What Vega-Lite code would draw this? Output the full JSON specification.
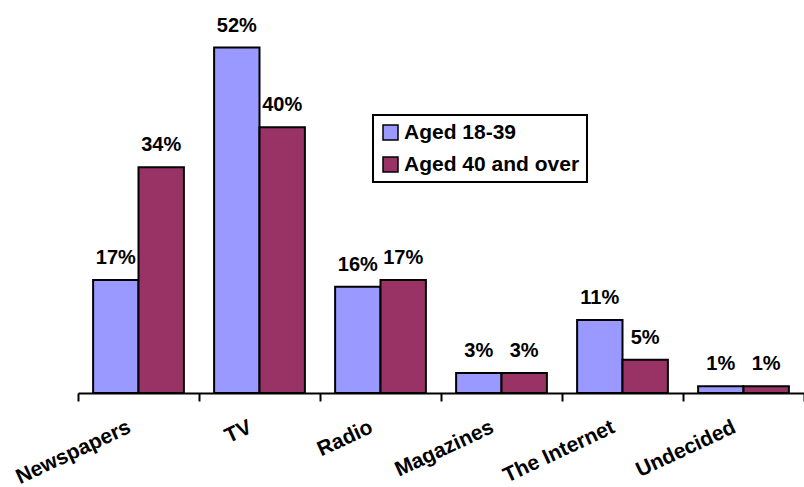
{
  "$schema": "https://vega.github.io/schema/vega-lite/v6.json",
  "autosize": "none",
  "width": 726,
  "height": 372,
  "padding": {"left": 78, "top": 21, "right": 0, "bottom": 94},
  "background": "white",
  "config": {
    "view": {"stroke": null},
    "font": "Liberation Sans"
  },
  "data": {
    "values": [
      {"medium": "Newspapers", "group": "Aged 18-39", "share": 0.17},
      {"medium": "Newspapers", "group": "Aged 40 and over", "share": 0.34},
      {"medium": "TV", "group": "Aged 18-39", "share": 0.52},
      {"medium": "TV", "group": "Aged 40 and over", "share": 0.40},
      {"medium": "Radio", "group": "Aged 18-39", "share": 0.16},
      {"medium": "Radio", "group": "Aged 40 and over", "share": 0.17},
      {"medium": "Magazines", "group": "Aged 18-39", "share": 0.03},
      {"medium": "Magazines", "group": "Aged 40 and over", "share": 0.03},
      {"medium": "The Internet", "group": "Aged 18-39", "share": 0.11},
      {"medium": "The Internet", "group": "Aged 40 and over", "share": 0.05},
      {"medium": "Undecided", "group": "Aged 18-39", "share": 0.01},
      {"medium": "Undecided", "group": "Aged 40 and over", "share": 0.01}
    ]
  },
  "encoding": {
    "x": {
      "field": "medium",
      "type": "nominal",
      "sort": ["Newspapers", "TV", "Radio", "Magazines", "The Internet", "Undecided"],
      "scale": {"paddingInner": 0, "paddingOuter": 0},
      "axis": {
        "title": null,
        "domainColor": "black",
        "domainWidth": 2,
        "tickColor": "black",
        "tickWidth": 2,
        "tickSize": 8,
        "tickBand": "extent",
        "labelAngle": -25,
        "labelAlign": "right",
        "labelBaseline": "top",
        "labelPadding": 15,
        "labelOffset": -14,
        "labelFont": "Liberation Sans",
        "labelFontSize": 21,
        "labelFontWeight": "bold",
        "labelColor": "black",
        "labelOverlap": false,
        "labelLimit": 300
      }
    },
    "xOffset": {
      "field": "group",
      "type": "nominal",
      "scale": {"paddingInner": 0, "paddingOuter": 0.333}
    },
    "y": {
      "field": "share",
      "type": "quantitative",
      "scale": {"domain": [0, 0.56]},
      "axis": null
    }
  },
  "layer": [
    {
      "mark": {"type": "bar", "stroke": "black", "strokeWidth": 2},
      "encoding": {
        "color": {
          "field": "group",
          "type": "nominal",
          "scale": {"domain": ["Aged 18-39", "Aged 40 and over"], "range": ["#9999FF", "#993366"]},
          "legend": {
            "title": null,
            "orient": "none",
            "legendX": 295,
            "legendY": 94,
            "strokeColor": "black",
            "fillColor": "white",
            "padding": 7,
            "labelFont": "Liberation Sans",
            "labelFontSize": 21,
            "labelFontWeight": "bold",
            "labelColor": "black",
            "labelLimit": 400,
            "symbolType": "square",
            "symbolSize": 225,
            "symbolStrokeColor": "black",
            "symbolStrokeWidth": 1.5,
            "rowPadding": 10,
            "labelOffset": 3,
            "encode": {"legend": {"update": {"strokeWidth": {"value": 2}}}}
          }
        }
      }
    },
    {
      "mark": {
        "type": "text",
        "align": "center",
        "baseline": "alphabetic",
        "dy": -16,
        "font": "Liberation Sans",
        "fontSize": 20,
        "fontWeight": "bold",
        "color": "black"
      },
      "encoding": {
        "text": {"field": "share", "type": "quantitative", "format": ".0%"}
      }
    }
  ]
}
